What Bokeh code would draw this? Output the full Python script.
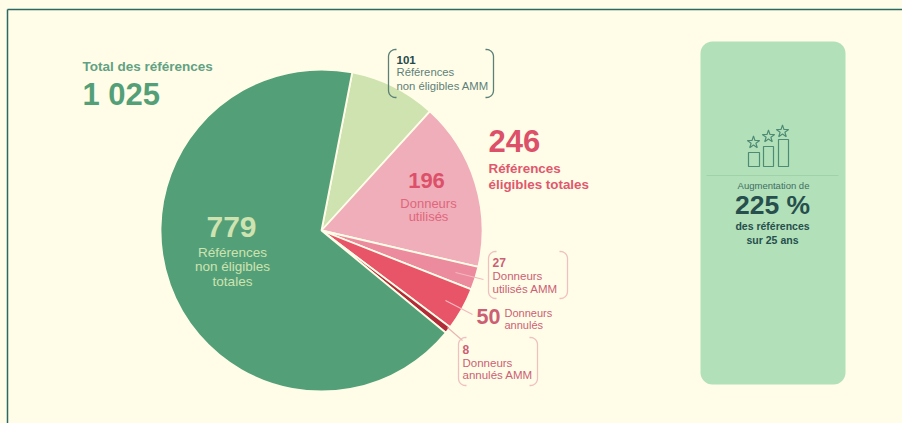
import numpy as np
from bokeh.plotting import figure
from bokeh.models import Range1d
from bokeh.core.properties import value
from bokeh.embed import file_html
from bokeh.resources import INLINE

# --- data
slice_names = ["Références non éligibles AMM", "Donneurs utilisés", "Donneurs utilisés AMM",
               "Donneurs annulés", "Donneurs annulés AMM", "Références non éligibles totales"]
slice_values = [101, 196, 27, 50, 8, 779]
slice_colors = ["#CFE3B1", "#EFAEB9", "#EC8B9D", "#E85468", "#B22B38", "#53A078"]
icon_bar_heights = [14, 20, 27]

BG = "#FFFDE8"
W, H = 902, 423
CX, CY, R = 321, 230, 161
START_DEG = 11.0


def Y(py):
    return H - py


p = figure(width=W, height=H, x_range=Range1d(0, W), y_range=Range1d(0, H),
           output_backend="svg", toolbar_location=None, min_border=0,
           background_fill_color=BG, border_fill_color=BG, outline_line_color=None)
p.axis.visible = False
p.grid.visible = False

# frame (top and left rules only)
p.line([7, 7], [Y(423), Y(9)], line_color="#2B6A62", line_width=1.5)
p.line([7, 902], [Y(9), Y(9)], line_color="#2B6A62", line_width=1.5)

# pie
vals = np.array(slice_values, dtype=float)
edges = START_DEG + np.concatenate([[0], np.cumsum(vals)]) / vals.sum() * 360
p.wedge(x=CX, y=Y(CY), radius=R,
        start_angle=np.radians(90 - edges[1:]), end_angle=np.radians(90 - edges[:-1]),
        fill_color=slice_colors, line_color=BG, line_width=1.8)


# leader lines
def leader(a, b, color, width=1.2):
    p.line([a[0], b[0]], [Y(a[1]), Y(b[1])], line_color=color, line_width=width)


leader((455, 272), (483, 279), "#F4B8BF")
leader((445, 300), (472, 314), "#F4B8BF")
leader((447, 327), (462, 340), "#EBB5B5")


# brackets
def bracket(x0, x1, y0, y1, color, stub=8, r=7):
    t = np.linspace(0, np.pi / 2, 8)
    for side, xe in ((1, x0), (-1, x1)):
        xs = [xe + side * stub]
        ys = [y0]
        xs += list(xe + side * r * (1 - np.sin(t)))
        ys += list(y0 + r * (1 - np.cos(t)))
        xs += list(xe + side * r * (1 - np.cos(t)))
        ys += list(y1 - r * (1 - np.sin(t)))
        xs += [xe + side * stub]
        ys += [y1]
        p.line(xs, [Y(v) for v in ys], line_color=color, line_width=1.3)


bracket(388, 493, 49, 97, "#5B8078")
bracket(488, 567, 251, 298, "#EFC0C0")
bracket(458, 537, 337, 385, "#EFC0C0")

# right panel
p.quad(left=700, right=845, top=Y(41), bottom=Y(384), fill_color="#B2E0B9",
       line_color=None, border_radius=12)
p.line([706, 838], [Y(175), Y(175)], line_color="#A0D2AA", line_width=1)

# icon
ICON = "#4E8B74"
bar_left = [748, 763, 778]
bar_right = [759, 773, 788]
p.quad(left=bar_left, right=bar_right, bottom=Y(166),
       top=[Y(166) + h for h in icon_bar_heights],
       fill_color=None, line_color=ICON, line_width=1.2)
p.scatter(x=[753, 768, 782], y=[Y(142), Y(136), Y(131)], marker="star", size=13,
          fill_color=None, line_color=ICON, line_width=1.1)


# texts: y is the baseline; the renderer centres on the digit height, hence the shift
def txt(x, y, s, size, color, bold=False, align="left"):
    p.text(x=[x], y=[Y(y - 0.36 * size)], text=[s], text_font=value("Liberation Sans"),
           text_font_size=f"{size}px", text_color=color,
           text_font_style="bold" if bold else "normal",
           text_align=align, text_baseline="alphabetic")


GREEN = "#62A183"
txt(82, 71, "Total des références", 13.5, GREEN, True)
txt(82, 105, "1 025", 31, "#53A078", True)

txt(396, 64, "101", 11.5, "#25494A", True)
txt(396, 76, "Références", 11.3, "#5E7F78")
txt(396, 90, "non éligibles AMM", 11.3, "#5E7F78")

RED = "#DD5069"
txt(488, 152, "246", 31, RED, True)
txt(488, 173, "Références", 13.4, "#E0586E", True)
txt(488, 189, "éligibles totales", 13.4, "#E0586E", True)

txt(426, 188, "196", 22, RED, True, "center")
txt(428, 208, "Donneurs", 13, "#E0667C", False, "center")
txt(428, 221, "utilisés", 13, "#E0667C", False, "center")

LIGHT = "#CFE3B1"
txt(231, 237, "779", 30, LIGHT, True, "center")
txt(232, 257, "Références", 13.5, LIGHT, False, "center")
txt(232, 271, "non éligibles", 13.5, LIGHT, False, "center")
txt(232, 286, "totales", 13.5, LIGHT, False, "center")

ROSE = "#CC5F74"
txt(492, 266, "27", 12, ROSE, True)
txt(492, 280, "Donneurs", 11.5, ROSE)
txt(492, 293, "utilisés AMM", 11.5, ROSE)

txt(476, 324, "50", 21.5, ROSE, True)
txt(504, 316, "Donneurs", 11, ROSE)
txt(504, 328, "annulés", 11, ROSE)

txt(462, 353, "8", 12, ROSE, True)
txt(462, 367, "Donneurs", 11.5, ROSE)
txt(462, 379, "annulés AMM", 11.5, ROSE)

DARK = "#264F4D"
txt(773, 188, "Augmentation de", 9.5, "#3F6E64", False, "center")
txt(772, 214, "225 %", 26.5, DARK, True, "center")
txt(772, 229, "des références", 10.5, DARK, True, "center")
txt(772, 243, "sur 25 ans", 10.5, DARK, True, "center")

html = file_html(p, INLINE)
style = f"<style>html,body{{margin:0;padding:0;background:{BG};overflow:hidden}}</style>"
html = html.replace("</head>", style + "</head>", 1)
open("out.html", "w").write(html)
